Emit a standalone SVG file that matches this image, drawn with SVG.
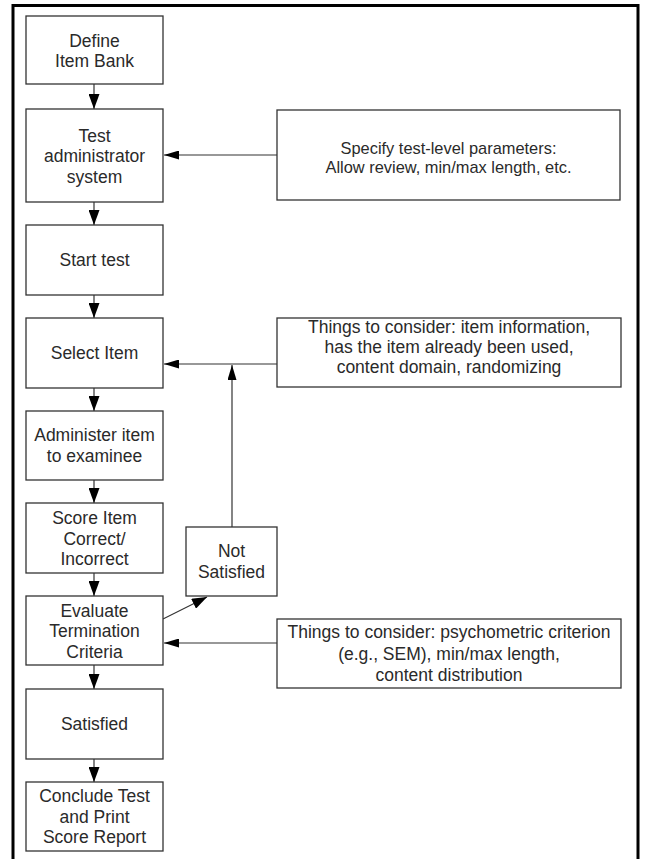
<svg xmlns="http://www.w3.org/2000/svg" width="648" height="859" viewBox="0 0 648 859">
<style>
.bg{fill:#fff}
.frame{fill:none;stroke:#000;stroke-width:3}
.box rect{fill:#fff;stroke:#333;stroke-width:1.3}
.box text{font-family:"Liberation Sans",Arial,sans-serif;font-size:17.5px;fill:#2a2a2a;text-anchor:middle}
.box.small text{font-size:16.4px}
.conn line{stroke:#333;stroke-width:1.2}
</style>
<defs>
<marker id="ah" markerUnits="userSpaceOnUse" markerWidth="15" markerHeight="11" refX="15" refY="5.5" orient="auto">
<path d="M0,0 L15,5.5 L0,11 Z" fill="#000"/>
</marker>
<marker id="ahs" markerUnits="userSpaceOnUse" markerWidth="15" markerHeight="9" refX="15" refY="4.5" orient="auto">
<path d="M0,0 L15,4.5 L0,9 Z" fill="#000"/>
</marker>
</defs>
<rect class="bg" x="0" y="0" width="648" height="859"/>
<path class="frame" d="M13,860 L13,5.5 L638,5.5 L638,860"/>

<g id="connectors" class="conn">
<line x1="94" y1="84" x2="94" y2="109" marker-end="url(#ah)"/>
<line x1="94" y1="202" x2="94" y2="225" marker-end="url(#ah)"/>
<line x1="94" y1="295" x2="94" y2="318" marker-end="url(#ah)"/>
<line x1="94" y1="388" x2="94" y2="411" marker-end="url(#ah)"/>
<line x1="94" y1="480" x2="94" y2="503" marker-end="url(#ah)"/>
<line x1="94" y1="573" x2="94" y2="596" marker-end="url(#ah)"/>
<line x1="94" y1="665" x2="94" y2="689" marker-end="url(#ah)"/>
<line x1="94" y1="759" x2="94" y2="782" marker-end="url(#ah)"/>
<line x1="277" y1="155" x2="164" y2="155" marker-end="url(#ahs)"/>
<line x1="277" y1="364" x2="164" y2="364" marker-end="url(#ahs)"/>
<line x1="232" y1="527" x2="232" y2="365" marker-end="url(#ahs)"/>
<line x1="163" y1="619" x2="207" y2="597" marker-end="url(#ah)"/>
<line x1="277" y1="643" x2="164" y2="643" marker-end="url(#ahs)"/>
</g>

<g id="define-item-bank" class="box">
<rect x="26" y="16" width="137" height="68"/>
<text x="94.5" y="46.5">Define</text>
<text x="94.5" y="67">Item Bank</text>
</g>
<g id="test-administrator-system" class="box">
<rect x="26" y="109" width="137" height="93"/>
<text x="94.5" y="141.5">Test</text>
<text x="94.5" y="162">administrator</text>
<text x="94.5" y="182.5">system</text>
</g>
<g id="start-test" class="box">
<rect x="26" y="225" width="137" height="70"/>
<text x="94.5" y="266.3">Start test</text>
</g>
<g id="select-item" class="box">
<rect x="26" y="318" width="137" height="70"/>
<text x="94.5" y="359">Select Item</text>
</g>
<g id="administer-item" class="box">
<rect x="26" y="411" width="137" height="69"/>
<text x="94.5" y="441">Administer item</text>
<text x="94.5" y="461.5">to examinee</text>
</g>
<g id="score-item" class="box">
<rect x="26" y="503" width="137" height="70"/>
<text x="94.5" y="524">Score Item</text>
<text x="94.5" y="544.5">Correct/</text>
<text x="94.5" y="565">Incorrect</text>
</g>
<g id="evaluate-termination" class="box">
<rect x="26" y="596" width="137" height="69"/>
<text x="94.5" y="616.5">Evaluate</text>
<text x="94.5" y="637">Termination</text>
<text x="94.5" y="657.5">Criteria</text>
</g>
<g id="satisfied" class="box">
<rect x="26" y="689" width="137" height="70"/>
<text x="94.5" y="730.3">Satisfied</text>
</g>
<g id="conclude-test" class="box">
<rect x="26" y="782" width="137" height="69"/>
<text x="94.5" y="802">Conclude Test</text>
<text x="94.5" y="822.5">and Print</text>
<text x="94.5" y="843">Score Report</text>
</g>
<g id="not-satisfied" class="box">
<rect x="186" y="527" width="91" height="69"/>
<text x="231.5" y="557">Not</text>
<text x="231.5" y="577.5">Satisfied</text>
</g>
<g id="test-level-parameters" class="box small">
<rect x="277" y="110" width="343" height="90"/>
<text x="448.5" y="154">Specify test-level parameters:</text>
<text x="448.5" y="173">Allow review, min/max length, etc.</text>
</g>
<g id="item-selection-considerations" class="box">
<rect x="277" y="318" width="344" height="69"/>
<text x="449" y="333">Things to consider: item information,</text>
<text x="449" y="353">has the item already been used,</text>
<text x="449" y="373">content domain, randomizing</text>
</g>
<g id="termination-considerations" class="box">
<rect x="277" y="619" width="344" height="69"/>
<text x="449" y="638.3">Things to consider: psychometric criterion</text>
<text x="449" y="659.8">(e.g., SEM), min/max length,</text>
<text x="449" y="681.3">content distribution</text>
</g>
</svg>
